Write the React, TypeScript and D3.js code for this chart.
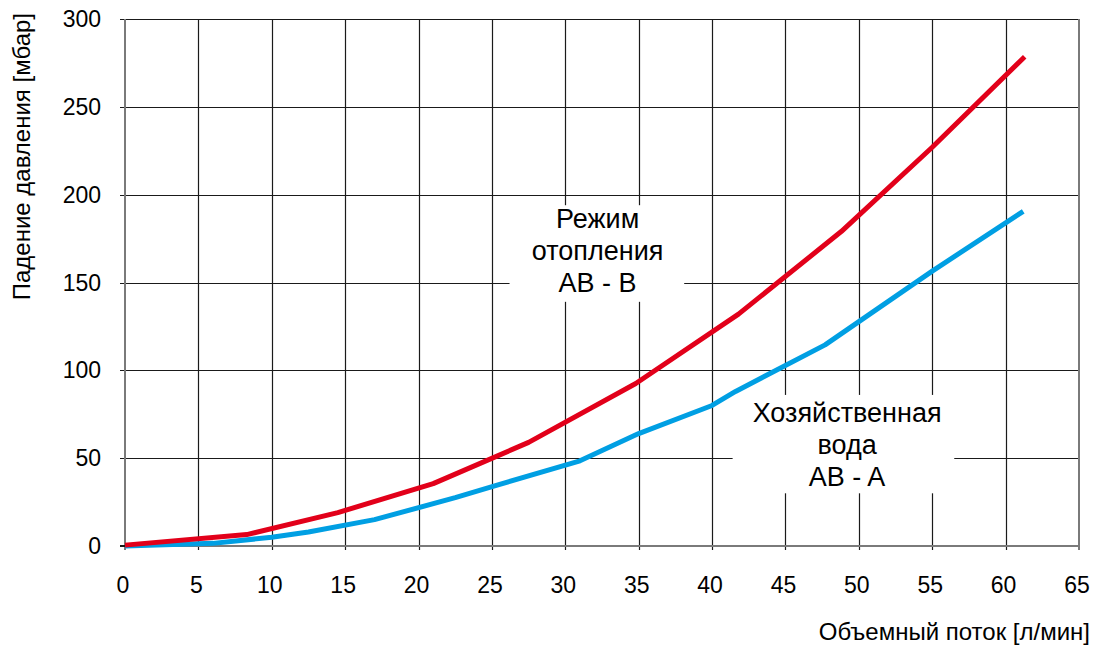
import React from "react";
import * as d3 from "d3";

const flowHeating = [0, 8.3, 14.5, 21, 27.5, 34.8, 41.8, 48.8, 55, 61.3];
const dropHeating = [0.5, 6.5, 19, 35.5, 59, 92.5, 132, 179, 227, 278.5];

const flowWater = [0, 6, 10, 12.5, 17, 22.5, 25.3, 31, 35, 40, 41.6, 47.7, 55, 61.2];
const dropWater = [0, 1.5, 5, 8, 15, 27.5, 34.5, 48.5, 64, 80, 88, 114.5, 156.5, 190.5];

const xTicks = [0, 5, 10, 15, 20, 25, 30, 35, 40, 45, 50, 55, 60, 65];
const yTicks = [0, 50, 100, 150, 200, 250, 300];

const xTitle = "Объемный поток [л/мин]";
const yTitle = "Падение давления [мбар]";

const heatingLabel = ["Режим", "отопления", "AB - B"];
const waterLabel = ["Хозяйственная", "вода", "AB - A"];

const W = 1104;
const H = 645;
const FONT = "'Liberation Sans', Arial, sans-serif";

export default function App() {
  const x = d3.scaleLinear().domain([0, 65]).range([125, 1079]);
  const y = d3.scaleLinear().domain([0, 300]).range([546, 19]);

  const line = d3
    .line<[number, number]>()
    .x((d) => x(d[0]))
    .y((d) => y(d[1]));

  const heating = flowHeating.map((f, i) => [f, dropHeating[i]] as [number, number]);
  const water = flowWater.map((f, i) => [f, dropWater[i]] as [number, number]);

  const boxes = [
    { x0: 26.2, x1: 38.1, y0: 139, y1: 194, cx: 32.2, yTop: 181, lines: heatingLabel },
    { x0: 41.4, x1: 56.5, y0: 30, y1: 86, cx: 49.2, yTop: 70.5, lines: waterLabel },
  ];

  return (
    <svg
      width={W}
      height={H}
      style={{ position: "absolute", left: 0, top: 0, background: "#fff" }}
      fontFamily={FONT}
    >
      <rect width={W} height={H} fill="#fff" />
      {/* vertical grid */}
      {xTicks.slice(1, -1).map((t) => (
        <line
          key={"vx" + t}
          x1={Math.round(x(t)) + 0.5}
          x2={Math.round(x(t)) + 0.5}
          y1={y(300)}
          y2={y(0) + 4}
          stroke="#1a1a1a"
          strokeWidth={1.2}
        />
      ))}
      {/* horizontal grid */}
      {yTicks.slice(1).map((t) => (
        <line
          key={"hy" + t}
          x1={x(0) - 5}
          x2={x(65)}
          y1={Math.round(y(t)) + 0.5}
          y2={Math.round(y(t)) + 0.5}
          stroke="#1a1a1a"
          strokeWidth={1.2}
        />
      ))}
      {/* white boxes behind annotations */}
      {boxes.map((b, i) => (
        <rect
          key={"box" + i}
          x={x(b.x0)}
          y={y(b.y1)}
          width={x(b.x1) - x(b.x0)}
          height={y(b.y0) - y(b.y1)}
          fill="#fff"
        />
      ))}
      {/* frame / axes */}
      <line x1={x(0)} x2={x(0)} y1={y(300)} y2={y(0) + 4} stroke="#7a7a7a" strokeWidth={2} />
      <line x1={x(65)} x2={x(65)} y1={y(300)} y2={y(0) + 4} stroke="#7a7a7a" strokeWidth={2} />
      <line x1={x(0) - 5} x2={x(65) + 1} y1={y(0)} y2={y(0)} stroke="#7a7a7a" strokeWidth={2} />
      <line x1={x(0) - 5} x2={x(0)} y1={y(0)} y2={y(0)} stroke="#1a1a1a" strokeWidth={2} />

      {/* curves */}
      <path d={line(water) || ""} fill="none" stroke="#009FE3" strokeWidth={5} strokeLinejoin="round" />
      <path d={line(heating) || ""} fill="none" stroke="#E2001A" strokeWidth={5} strokeLinejoin="round" />

      {/* y tick labels */}
      {yTicks.map((t) => (
        <text
          key={"yl" + t}
          x={x(0) - 24}
          y={y(t)}
          dy="0.35em"
          textAnchor="end"
          fontSize={23}
          fill="#000"
        >
          {t}
        </text>
      ))}
      {/* x tick labels */}
      {xTicks.map((t) => (
        <text key={"xl" + t} x={x(t) - 2} y={593} textAnchor="middle" fontSize={23} fill="#000">
          {t}
        </text>
      ))}
      {/* axis titles */}
      <text x={1090} y={640} textAnchor="end" fontSize={24} fill="#000">
        {xTitle}
      </text>
      <text
        transform={`translate(30, 13) rotate(-90)`}
        textAnchor="end"
        fontSize={24}
        fill="#000"
      >
        {yTitle}
      </text>

      {/* annotations */}
      {boxes.map((b, i) => (
        <text key={"ann" + i} textAnchor="middle" fontSize={27} fill="#000">
          {b.lines.map((l, j) => (
            <tspan key={j} x={x(b.cx)} y={y(b.yTop) + j * 32}>
              {l}
            </tspan>
          ))}
        </text>
      ))}
    </svg>
  );
}
